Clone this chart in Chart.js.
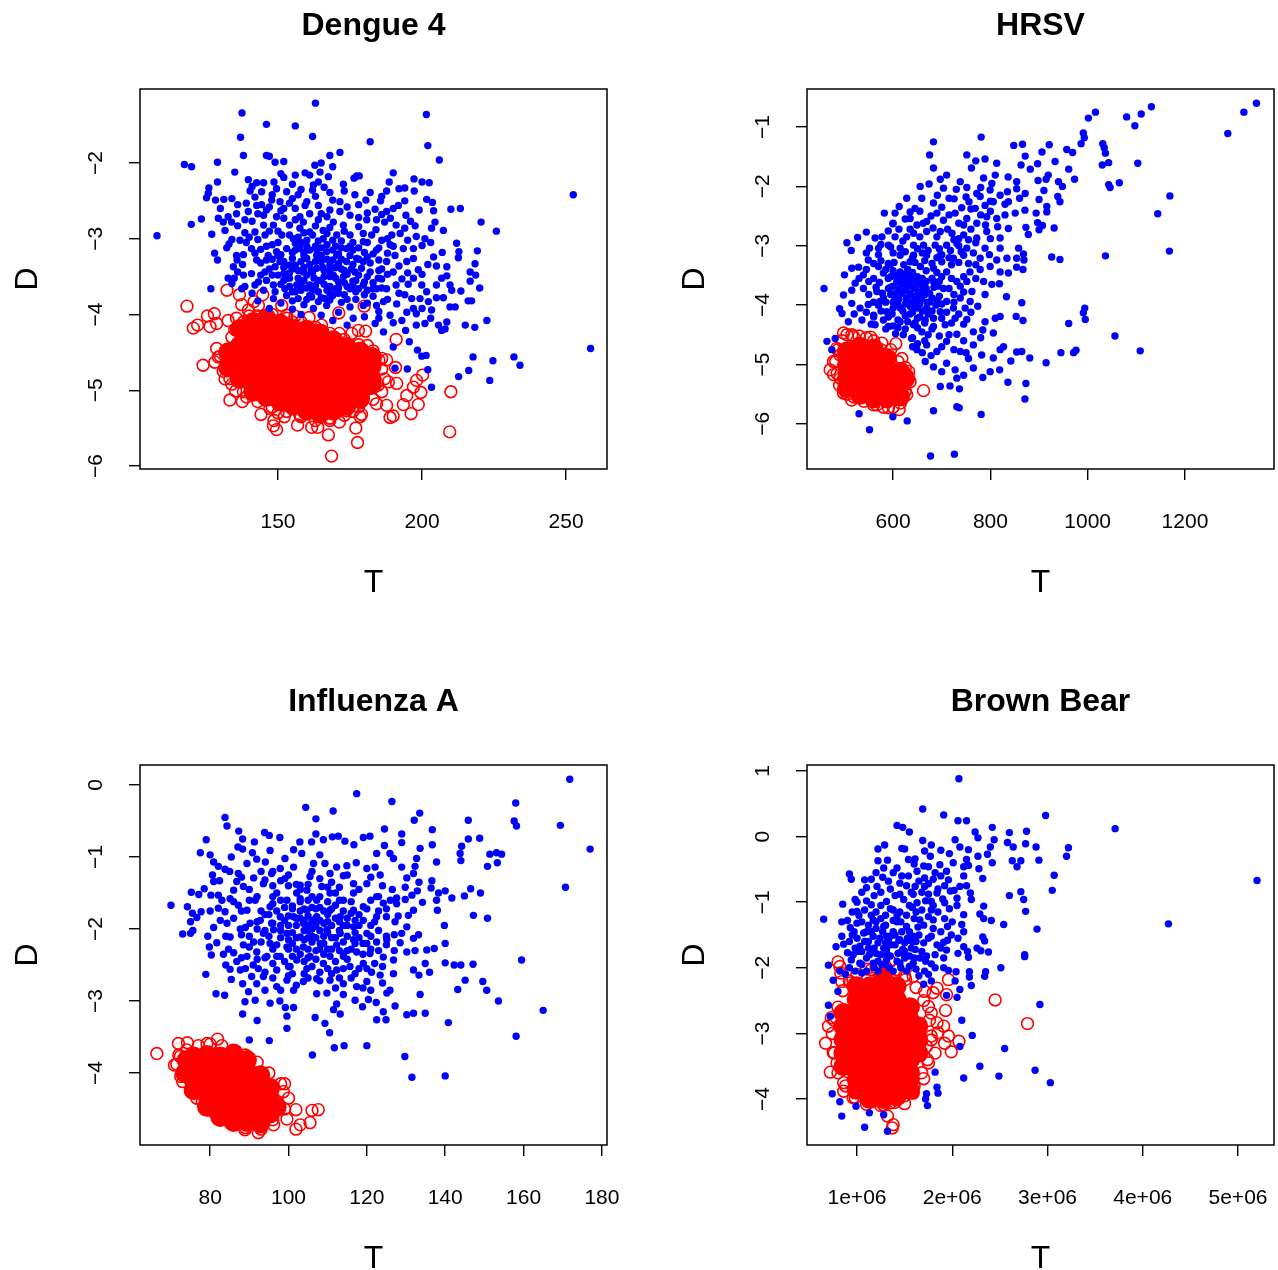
<!DOCTYPE html>
<html><head><meta charset="utf-8">
<script src="https://cdn.jsdelivr.net/npm/chart.js@4"></script>
<style>html,body{margin:0;padding:0;background:#fff;overflow:hidden;width:1278px;height:1270px}canvas{position:absolute}</style>
</head><body>
<canvas id="c0" width="640" height="610" style="left:0;top:0"></canvas>
<canvas id="c1" width="611" height="610" style="left:667px;top:0"></canvas>
<canvas id="c2" width="640" height="610" style="left:0;top:676px"></canvas>
<canvas id="c3" width="611" height="610" style="left:667px;top:676px"></canvas>
<script>
const dengueTitle="Dengue 4", hrsvTitle="HRSV", fluTitle="Influenza A", bearTitle="Brown Bear";
const dengueTicksT=[150,200,250], dengueTicksD=[-6,-5,-4,-3,-2];
const hrsvTicksT=[600,800,1000,1200], hrsvTicksD=[-6,-5,-4,-3,-2,-1];
const fluTicksT=[80,100,120,140,160,180], fluTicksD=[-4,-3,-2,-1,0];
const bearTicksT=[1,2,3,4,5], bearTicksD=[-4,-3,-2,-1,0,1]; // T in millions

const dengueBlue=[108,-2.96,163,-1.21,137.5,-1.34,146,-1.49,156,-1.51,162,-1.65,137,-1.66,201.5,-1.36,202,-1.77,206,-1.96,182,-1.72,252.5,-2.42,258.5,-4.45,138,-1.9,117.5,-2.02,120,-2.05,129,-1.99,135,-2.12,168,-1.9,171.5,-1.86,146,-1.9,147,-1.91,149,-1.99,152,-1.98,
159.4,-2.13,161,-2.16,162.8,-2.03,165,-2,169,-2.05,164.6,-2.12,167.5,-2.18,151,-2.14,156,-2.16,152,-2.19,177.3,-2.17,178.2,-2.17,176.4,-2.2,190,-2.13,188.6,-2.25,197.2,-2.21,200,-2.25,202.5,-2.26,129,-2.25,139.7,-2.22,142.6,-2.26,145,-2.26,148.6,-2.25,155,-2.28,162.3,-2.29,172.7,-2.28,
126,-2.33,125.8,-2.4,125.2,-2.46,128.3,-2.49,131.2,-2.48,140.3,-2.37,144.3,-2.38,142,-2.45,139,-2.53,144.3,-2.55,147.8,-2.49,149.5,-2.34,153,-2.38,157,-2.42,150.7,-2.51,154,-2.53,160,-2.51,162,-2.36,168,-2.39,169,-2.49,171.5,-2.51,164,-2.56,159.4,-2.56,176.7,-2.42,182,-2.39,180.5,-2.49,185.6,-2.5,187.7,-2.37,192,-2.34,194,-2.33,197.3,-2.37,201.6,-2.48,203.6,-2.52,204,-2.63,210,-2.61,213.3,-2.6,183.7,-2.61,187.7,-2.64,191.8,-2.56,190,-2.6,194.4,-2.69,139.7,-2.64,142.6,-2.56,147,-2.58,145,-2.69,149.5,-2.71,157.6,-2.71,161,-2.67,165,-2.67,168,-2.62,171.5,-2.64,175,-2.69,135.6,-2.67,132.7,-2.71,129.3,-2.73,
123.4,-2.74,119.9,-2.81,127,-2.94,131,-2.78,131.6,-2.89,133.9,-2.78,138.5,-2.75,138.5,-2.92,142,-2.91,145,-2.82,148.4,-2.82,145.5,-2.95,154,-2.82,157.6,-2.86,151.3,-2.95,155.3,-3,158.8,-2.78,161,-2.91,165.7,-2.89,169.2,-2.78,172.7,-2.82,175,-2.95,170.4,-2.95,165.7,-3,180.8,-2.75,184.2,-2.75,187,-2.78,191,-2.82,194,-2.86,197.6,-2.83,203.3,-2.86,207.4,-2.89,204.5,-2.78,220.5,-2.78,225.8,-2.9,179.6,-2.93,182.5,-2.95,186,-3.02,189.5,-2.95,192.4,-2.93,198,-2.97,201,-3,203,-3.05,197,-3.13,193.5,-3.13,188.9,-3.08,184.2,-3.15,179.6,-3.04,212,-3.06,212.8,-3.17,
134,-3.01,136.8,-3.02,132.2,-3.12,128,-3.19,129,-3.28,135.6,-3.22,135.8,-3.28,134.5,-3.37,137.7,-3.34,140.8,-3.13,142.6,-3.28,142,-3.19,146.6,-3.22,145.5,-3.44,140.8,-3.46,132.7,-3.52,134.8,-3.52,134,-3.59,143.2,-3.57,142,-3.61,126.7,-3.66,138.5,-3.63,137.4,-3.66,
149.5,-3.17,153,-3.13,150.7,-3.3,154,-3.35,157.6,-3.13,160,-3.26,163.4,-3.22,166.9,-3.17,170.4,-3.22,173.8,-3.13,173.8,-3.3,168,-3.35,163.4,-3.39,158.8,-3.44,154,-3.52,150,-3.48,148.4,-3.61,152.4,-3.66,156.5,-3.61,161,-3.61,165,-3.55,169.2,-3.48,172.7,-3.5,176.7,-3.44,177.3,-3.26,179.6,-3.3,182,-3.44,184.8,-3.52,187.7,-3.3,190.6,-3.22,190,-3.44,191,-3.61,187.7,-3.66,184.2,-3.66,179.6,-3.61,175,-3.66,171,-3.72,166.3,-3.79,161.7,-3.77,157,-3.79,153,-3.75,148.4,-3.79,194.7,-3.3,197,-3.26,198.7,-3.41,202,-3.34,205,-3.36,208.6,-3.37,197,-3.52,195.2,-3.6,199.9,-3.61,201.6,-3.7,205,-3.61,206.8,-3.52,208.6,-3.49,209.7,-3.61,210.3,-3.68,213.5,-3.69,216.7,-3.44,218.4,-3.33,219.2,-3.16,212.6,-3.25,218.6,-3.48,216.7,-3.56,220,-3.65,216,-3.82,217.2,-3.82,194,-3.74,196.4,-3.79,199.3,-3.79,205,-3.78,207.4,-3.78,202.2,-3.83,209.7,-3.9,211.5,-3.9,203.3,-3.94,198,-3.99,198,-4.14,201,-4.12,205.7,-4.14,208.6,-4.1,206.8,-4.21,208,-4.19,215,-4.14,218.3,-4.17,222.5,-4.08,
186.6,-3.83,191.2,-3.86,184.2,-3.88,194.7,-3.97,188.9,-4.01,179.6,-3.88,175,-3.9,171,-3.97,166.9,-3.88,162.3,-3.92,165,-4.01,176.1,-4.05,183.7,-4.12,190,-4.11,186.6,-4.23,194.3,-4.21,195.6,-4.36,190,-4.43,198.4,-4.47,199.9,-4.55,201.4,-4.54,194.9,-4.72,202,-4.73,190.6,-4.71,203.3,-4.96,212.7,-4.82,216.2,-4.74,217.7,-4.56,224.6,-4.61,223.5,-4.87,231.9,-4.56,234,-4.67,
155,-3.4,160,-3.48,165,-3.3,170,-3.1,158,-3.05,163,-3.1,168,-3.5,172,-3.4,176,-3.15,150,-3.05,147,-3.4,146,-3.1,152,-3.55,156,-3.7,160,-3.65,164,-3.7,168,-3.72,173,-3.58,177,-3.7,181,-3.5,183,-3.2,186,-3.4];
const dengueBlueDense=[141,-2.31,148,-2.42,155,-2.47,163,-2.44,173,-2.37,178,-2.55,186,-2.44,194,-2.5,199,-2.62,143,-2.67,151,-2.63,156,-2.6,167,-2.71,174,-2.58,181,-2.66,189,-2.73,196,-2.77,136,-2.83,141,-2.77,147,-2.9,152,-2.73,159,-2.92,163,-2.83,167,-2.93,173,-2.9,178,-2.84,184,-2.88,188,-3,195,-3.02,200,-3.09,133,-3.07,139,-3.05,143,-3.01,148,-3.08,151,-3.21,156,-3.06,159,-3.18,161,-3.34,164,-3.03,167,-3.27,169,-3.02,171,-3.33,175,-3.22,178,-3.12,181,-3.24,185,-3.28,188,-3.19,192,-3.36,195,-3.45,138,-3.21,144,-3.32,148,-3.27,152,-3.38,155,-3.26,157,-3.52,159,-3.38,162,-3.45,164,-3.55,166,-3.42,170,-3.38,171,-3.57,174,-3.47,176,-3.56,179,-3.39,183,-3.58,186,-3.53,188,-3.47,193,-3.53,200,-3.47,204,-3.24,207,-3.18,146,-3.55,149,-3.7,154,-3.63,158,-3.68,159,-3.55,163,-3.62,166,-3.6,170,-3.66,173,-3.74,176,-3.62,180,-3.74,183,-3.76,188,-3.8,192,-3.72,197,-3.92,151,-3.85,155,-3.82,159,-3.87,164,-3.83,168,-3.81,172,-3.84,177,-3.8,181,-3.85,185,-3.96,141,-3.72,145,-3.68,138,-3.48,136,-3.44,143,-3.82,147,-3.92,155,-3.93,158,-4,169,-4.08,174,-4.14,180,-4.03,185,-4.05,193,-4.08,200,-3.92,203,-4.05,165,-3.12,160,-3.1,155,-3.18,169,-3.15,152,-3.46,163,-3.3,166,-3.5,168,-3.63,156,-3.35,149,-3.37,176,-3.34,178,-3.48,161,-3.75,157,-3.42,172,-3.27,144,-3.14,140,-2.98,136,-2.55,134,-2.47,130,-2.6,152,-2.6,164,-2.25,158,-2.35,166,-2.32,146,-2.62,
150,-3.22,152,-3.3,154,-3.45,156,-3.15,158,-3.3,159,-3.22,161,-3.15,161.5,-3.42,162.5,-3.52,163.5,-3.15,165,-3.22,165.5,-3.38,167,-3.08,168,-3.43,169,-3.28,170,-3.52,171,-3.2,172,-3.12,173,-3.42,174,-3.63,175,-3.1,175.5,-3.4,177,-3.55,178,-3.27,180,-3.18,180,-3.57,182,-3.32,183,-3.66,185,-3.42,186,-3.65,151,-3.6,153,-3.52,155,-3.7,158,-3.6,160,-3.8,162,-3.68,165,-3.78,167,-3.68,169,-3.75,171,-3.65,174,-3.8,178,-3.66,181,-3.68,148,-3.48,146,-3.28,144,-3.48,150,-2.9,154,-2.95,157,-2.98,160,-3.02,162,-2.95,168,-2.85,172,-3.03,176,-3.05,181,-3.05,185,-3.12,190,-3.1,156,-2.75,164,-2.75,178,-2.72,186,-2.68];
const dengueRedRings=[118.4,-3.89,132.3,-3.68,136.6,-3.74,144.7,-3.74,137.4,-3.87,141.7,-3.83,143.2,-3.88,151.3,-3.88,171.1,-3.98,179.9,-3.89,160.8,-4.04,155.9,-4.02,165.1,-4.14,120.6,-4.18,122.1,-4.14,125.5,-4.02,127.9,-3.99,126.4,-4.16,128.7,-4.12,132.7,-4.08,135.6,-4.05,139.7,-3.94,146,-4.03,153,-4.01,171.3,-4.25,175.6,-4.25,177.9,-4.21,180.4,-4.22,191,-4.33,181,-4.41,187.7,-4.6,190.8,-4.7,200.2,-4.8,210,-5.02,209.6,-5.55,168.6,-5.87,177.6,-5.69,167.5,-5.59,177,-5.5,156.8,-5.46,161.7,-5.49,163.8,-5.49,171.3,-5.42,149.5,-5.52,148.4,-5.47,148.6,-5.4,152.2,-5.35,144.1,-5.32,133.3,-5.13,137.6,-5.15,135.3,-5.01,124,-4.67,128.1,-4.63,131.6,-4.85,133.3,-4.85,128.7,-4.45,129.3,-4.56,196.2,-5.31,198.7,-5.19,199.6,-5.03,197,-4.96,198.1,-4.87,193.5,-5.19,190,-5.34,188.9,-5.36,179,-5.32,178.5,-5.35,187.7,-5.2,184.2,-5.18,191.2,-4.91,188.3,-4.89,194.7,-5.07,186,-4.58,184.8,-4.93,147.2,-5.24,157.6,-5.33,168,-5.37,173.8,-5.27,139.1,-5.09,
134,-4.3,138,-4.1,143,-4.02,148,-4,153,-4.05,158,-4.1,163,-4.17,168,-4.25,173,-4.33,178,-4.4,183,-4.48,186,-4.72,187,-4.85,186,-5.02,183,-5.12,178,-5.22,173,-5.33,168,-5.4,163,-5.4,158,-5.35,153,-5.28,148,-5.22,143,-5.15,138,-5.02,134,-4.92,131,-4.75,130,-4.55,135,-4.2,140,-4.02,145,-4.08,155,-4.1,185,-4.6,176,-5.28,150,-5.3,165,-5.35];
const dengueRedCore=[136.8,-4.41,136.8,-4.59,136.8,-4.77,136.8,-4.85,141.4,-4.27,141.4,-4.45,141.4,-4.63,141.4,-4.81,141.4,-4.93,146,-4.19,146,-4.37,146,-4.55,146,-4.73,146,-4.91,146,-5.02,150.7,-4.23,150.7,-4.41,150.7,-4.59,150.7,-4.77,150.7,-4.95,150.7,-5.07,155.3,-4.27,155.3,-4.45,155.3,-4.63,155.3,-4.81,155.3,-4.99,155.3,-5.11,160,-4.32,160,-4.5,160,-4.68,160,-4.86,160,-5.04,160,-5.2,164.6,-4.36,164.6,-4.54,164.6,-4.72,164.6,-4.9,164.6,-5.08,164.6,-5.2,169.2,-4.45,169.2,-4.63,169.2,-4.81,169.2,-4.99,169.2,-5.15,173.8,-4.54,173.8,-4.72,173.8,-4.9,173.8,-5.08,178.5,-4.58,178.5,-4.76,178.5,-4.94,182.5,-4.68,182.5,-4.84,
132.7,-4.5,132.7,-4.7,136.8,-4.19,141.4,-4.1,146,-4.05,150.7,-4.12,155.3,-4.19,160,-4.2,164.6,-4.25,169.2,-4.34,173.8,-4.43,178.5,-4.49,182.5,-4.56,169.2,-5.27,164.6,-5.31,160,-5.27,155.3,-5.2,150.7,-5.15,146,-5.09,173.8,-5.2,178.5,-5.11,182.5,-4.93,141.4,-5.02];

const hrsvBlue=[458,-3.72,1347,-.6,1321,-.75,1288,-1.11,1131,-.66,1110,-.78,1080,-.83,1097,-.98,1016,-.75,1001.5,-.85,991,-1.1,993,-1.18,986.5,-1.28,1031,-1.28,1034,-1.35,1036.5,-1.44,1043,-1.6,1030,-1.64,1103,-1.61,1065,-1.94,1043,-1.97,1046,-2.02,1169,-2.16,1144,-2.46,1168,-3.09,1036.5,-3.17,926,-3.19,943,-3.23,
781,-1.17,683,-1.25,675,-1.47,683,-1.69,751.5,-1.47,770,-1.57,789,-1.54,761,-1.69,813,-1.61,848,-1.31,866,-1.29,871.5,-1.49,863,-1.64,882,-1.71,897,-1.62,906,-1.42,921,-1.3,933,-1.58,957,-1.38,969,-1.43,961,-1.71,973,-1.88,919,-1.81,914.5,-1.88,898,-1.9,940,-1.92,948,-2,910,-2.07,900,-2.22,938.5,-2.17,943,-2.26,916,-2.34,916,-2.43,894,-2.45,871,-2.4,897,-2.61,900,-2.73,907,-2.66,931,-2.7,873,-2.69,878,-2.81,858,-3.04,868,-3.14,869,-3.24,867,-3.4,854,-3.21,837,-3.46,854,-3.36,
833,-3.86,864.5,-3.96,853,-4.19,867,-4.26,991,-4.13,994,-4.05,995,-4.24,961,-4.31,1056,-4.52,1108,-4.77,945,-4.8,976,-4.76,971,-4.8,854,-4.79,864.5,-4.78,881,-4.89,914.5,-4.97,842,-4.94,819,-5.09,836,-5.3,873,-5.32,871,-5.58,
781,-5.84,731,-5.71,736,-5.73,683,-5.78,629,-5.95,599.5,-5.88,530,-5.83,551.5,-6.1,677,-6.54,726,-6.51,
799.5,-5.12,784.4,-5.22,765,-5.06,745,-5.18,727.5,-5.09,731,-5.23,717,-5.36,697,-5.37,736.4,-5.41,700,-5.12,683,-5.04,666,-4.95,710,-4.98,755,-4.9,782,-4.84,806,-4.89,820,-4.75,827,-4.7,765,-4.67,738,-4.78,710,-4.61,690,-4.78,669,-4.67,649,-4.75,731,-4.49,765,-4.45,784.4,-4.42,806,-4.47,789,-4.28,810,-4.22,820,-4.19,751.5,-4.24,727.5,-4.22,707,-4.33,683,-4.36,659,-4.45,638,-4.56,
710,-1.81,697,-1.88,738,-1.92,751.5,-2.02,674,-1.96,655.6,-2,703.5,-2.03,691,-2.15,786,-1.86,810,-1.81,803,-1.95,799.5,-2.06,836.5,-1.84,854,-1.92,854,-2.04,835,-2.09,871.5,-2.12,837,-2.26,772,-2.12,779,-2.17,725.5,-2.21,756,-2.26,628,-2.2,659,-2.2,683,-2.28,612.5,-2.34,604,-2.45,582,-2.45,599.5,-2.63,635,-2.43,645,-2.37,635,-2.54,649,-2.65,669,-2.59,690,-2.45,703.5,-2.57,727.5,-2.45,741,-2.36,769,-2.37,789,-2.32,806,-2.26,830,-2.48,851,-2.45,751.5,-2.54,772,-2.62,745,-2.65,792.5,-2.51,813,-2.54,837,-2.71,820,-2.87,792.5,-2.76,772,-2.87,745,-2.82,721,-2.79,697,-2.76,669,-2.76,642,-2.79,
545,-2.77,527,-2.86,505,-2.95,514,-3.08,551.5,-3.04,563,-2.87,577,-2.85,604,-2.85,628,-2.85,590.5,-2.99,614.5,-3.04,570,-3.04,642,-2.99,662.5,-2.99,686.5,-2.99,710,-2.99,731,-2.96,751.5,-3.04,789,-3.04,820,-3.04,779,-3.21,813,-3.24,834,-3.21,799.5,-3.35,820,-3.44,779,-3.4,758,-3.44,745,-3.52,786,-3.6,818.6,-3.64,803,-3.65,789,-3.82,762,-3.77,751.5,-3.6,724,-3.21,745,-3.16,697,-3.16,669,-3.16,642,-3.16,614.5,-3.16,549,-3.24,570,-3.35,529,-3.36,515,-3.38,500,-3.49,522,-3.63,539,-3.49,560,-3.55,580,-3.46,594,-3.32,614.5,-3.44,635,-3.27,656,-3.35,683,-3.38,710,-3.44,731,-3.6,703.5,-3.72,683,-3.6,659,-3.6,635,-3.66,607.6,-3.6,590.5,-3.72,566.5,-3.77,539,-3.72,498,-3.83,515,-3.97,490,-4.06,495,-4.14,532,-4.05,549,-3.99,573,-3.94,604,-3.88,628,-3.88,655.6,-3.83,680,-3.88,710,-3.94,738,-3.88,758.4,-3.94,774,-4.02,748,-4.05,724,-4.05,697,-4.11,669,-4.05,642,-4.05,614.5,-4.05,587,-4.11,560,-4.17,536,-4.25,508,-4.28,563,-4.33,590.5,-4.36,614.5,-4.28,642,-4.33,666,-4.25,683,-4.22,621,-4.5,464,-4.61,481,-4.56,474,-4.75];
const hrsvBlueDense=[600,-2.62,612,-2.72,625,-2.55,655,-2.42,662,-2.62,678,-2.5,700,-2.35,715,-2.48,735,-2.62,760,-2.38,780,-2.48,800,-2.42,815,-2.68,790,-2.65,760,-2.72,735,-2.88,712,-2.72,682,-2.7,655,-2.85,620,-2.92,595,-3.02,570,-3.15,600,-3.12,625,-3.1,650,-3.05,672,-3.08,695,-3.05,718,-3.08,740,-3.1,765,-3.12,798,-3.15,545,-3.4,560,-3.3,585,-3.4,602,-3.28,622,-3.32,645,-3.28,665,-3.25,680,-3.3,700,-3.27,720,-3.32,735,-3.28,755,-3.3,770,-3.32,530,-3.55,550,-3.6,572,-3.62,595,-3.52,605,-3.5,625,-3.48,640,-3.45,650,-3.52,668,-3.42,690,-3.45,700,-3.52,720,-3.55,738,-3.68,770,-3.55,515,-3.75,550,-3.82,578,-3.8,595,-3.82,612,-3.72,622,-3.65,645,-3.72,655,-3.65,668,-3.72,692,-3.68,715,-3.72,725,-3.82,745,-3.78,560,-3.95,585,-3.95,600,-3.95,618,-3.8,635,-3.8,648,-3.85,665,-3.82,675,-3.95,695,-3.85,700,-3.98,725,-3.95,520,-4.15,545,-4.12,575,-4.1,598,-4.15,610,-4,625,-3.98,640,-3.95,655,-3.98,672,-4.15,688,-4,710,-4.12,735,-4.15,760,-4.12,555,-4.32,580,-4.25,600,-4.35,625,-4.18,635,-4.15,650,-4.22,660,-4.1,700,-4.22,720,-4.3,745,-4.32,650,-4.38,625,-4.4,605,-4.48,640,-4.55,672,-4.5,695,-4.52,715,-4.5,745,-4.6,780,-4.55,640,-4.7,660,-4.8,678,-4.85,700,-4.7,725,-4.75,750,-4.8,630,-3.4,640,-3.55,612,-3.58,645,-3.95,660,-3.55,680,-3.55,600,-3.68,630,-3.6,575,-3.25,545,-3.12,690,-2.85,725,-2.9,770,-2.95,800,-2.88,590,-2.75,635,-2.72,575,-2.98,750,-2.18,780,-2.02,830,-2.3,860,-2.2,820,-2.15,800,-2.25,730,-2.05,715,-2.2,
590,-3.55,595,-3.7,600,-3.42,605,-3.8,610,-3.5,612,-3.9,615,-3.62,620,-4.1,620,-3.55,625,-3.75,628,-3.9,630,-4.28,632,-3.52,635,-4.02,637,-3.68,640,-4.12,642,-3.85,645,-4.3,648,-3.6,650,-4.05,652,-3.78,655,-4.2,658,-3.9,662,-3.72,665,-4.3,668,-3.6,670,-3.95,675,-3.8,680,-4.1,684,-3.7,690,-3.92,695,-3.6,610,-4.25,600,-4.05,590,-4.2,580,-3.88,570,-4,565,-3.7,560,-4.2,585,-4.4,610,-4.38,590,-3.3,640,-3.2,660,-3.12,700,-3.15,715,-3.2,735,-3,690,-3.2,755,-2.9,650,-4.65,665,-4.6,680,-4.4];
const hrsvRedRings=[498,-4.47,518.6,-4.53,554,-4.54,577,-4.64,605.6,-4.65,618,-4.9,632,-5.12,635,-5.29,662.5,-5.44,477.5,-5.17,470.6,-5.09,515,-5.6,498,-5.48,612.5,-5.76,590.5,-5.73,628,-5.51,484,-4.73,477.5,-4.95,566.5,-5.68,491,-4.84,491,-5.23,
495,-4.6,505,-4.5,515,-4.5,530,-4.52,545,-4.55,560,-4.6,575,-4.75,595,-4.75,610,-4.95,625,-5.05,630,-5.2,625,-5.45,615,-5.65,600,-5.72,580,-5.72,560,-5.68,540,-5.62,520,-5.55,505,-5.5,490,-5.35,485,-5.15,482,-4.95,487,-4.75];
const hrsvRedCore=[505,-4.78,505,-5.01,505,-5.23,505,-5.4,532,-4.7,532,-4.92,532,-5.15,532,-5.37,532,-5.51,560,-4.73,560,-4.95,560,-5.17,560,-5.4,560,-5.57,587,-4.89,587,-5.12,587,-5.34,587,-5.57,614.5,-5.12,614.5,-5.34,614.5,-5.54,625,-5.23];

const fluBlue=[171.8,.08,177,-.89,169.4,-.56,170.7,-1.42,158,-.25,157.6,-.5,158.2,-.57,145.9,-.49,148.8,-.74,145.9,-.75,144.2,-.85,143.8,-.95,144,-1.05,151.4,-.96,153.1,-.94,154.4,-.96,153.3,-1.08,150.8,-1.13,117.4,-.12,126.4,-.23,104.4,-.31,111.4,-.36,107,-.47,83.8,-.45,84.3,-.57,87.3,-.64,79,-.76,88.3,-.75,91.3,-.79,93.9,-.66,95.1,-.7,97.8,-.73,102.9,-.79,105.9,-.79,107,-.68,108.9,-.76,111.2,-.72,112.7,-.71,114.4,-.78,116.7,-.83,119.1,-.73,120.8,-.71,124.5,-.61,128.9,-.68,128.9,-.8,133.5,-.39,132.1,-.49,136.7,-.62,136.7,-.83,133.6,-.88,124.5,-.84,
77.5,-.94,80,-.97,85.4,-1,87.1,-.86,88.3,-.89,90.8,-.94,95.3,-.91,99.1,-1.02,101.3,-.9,103.4,-.95,108,-.97,122.5,-.95,125.9,-.95,126.8,-1.02,132.7,-1.02,137.8,-1.07,
80.9,-1.07,82.1,-1.13,83.8,-1.17,80.6,-1.25,80.9,-1.34,82.4,-1.33,89.4,-1.09,91.9,-1.03,94.1,-1.07,87.2,-1.23,86.8,-1.34,91.1,-1.29,93.6,-1.37,95.7,-1.23,97.9,-1.16,101.3,-1.14,99.1,-1.3,103,-1.39,105.5,-1.27,106.4,-1.09,109.3,-1.09,110.6,-1.23,112.3,-1.14,114.9,-1.12,117.3,-1.08,120,-1.16,122.1,-1.14,123.4,-1.25,120,-1.37,116.6,-1.37,114,-1.26,108.5,-1.41,128.9,-1.14,130.2,-1.29,132.3,-1.13,131.9,-1.23,133.3,-1.35,136.6,-1.33,129.8,-1.42,126.5,-1.45,132.9,-1.47,136.4,-1.43,140,-1.47,146.5,-1.44,149,-1.5,144.9,-1.54,141.7,-1.57,138.3,-1.5,137.8,-1.6,138,-1.74,134.2,-1.63,131.5,-1.53,129.8,-1.59,127.6,-1.57,127.6,-1.65,147.2,-1.81,150.8,-1.85,
70,-1.67,75.2,-1.49,77.1,-1.52,78.5,-1.44,80.2,-1.53,82.1,-1.53,74.2,-1.69,75.5,-1.78,77.7,-1.76,76.6,-1.84,75,-1.9,75.6,-2.02,75,-2.06,73,-2.07,80,-1.75,82.1,-1.71,83.8,-1.76,85.1,-1.58,87.2,-1.67,89.4,-1.74,91.5,-1.6,86,-1.46,88.5,-1.41,82.6,-1.88,84.3,-1.92,79.4,-2.1,80.9,-1.98,79.8,-2.25,80.3,-2.36,81.7,-2.19,84.7,-2.28,83.4,-2.35,84,-2.5,85.1,-2.56,78.9,-2.63,85.4,-2.7,81.5,-2.9,83.7,-2.92,86.8,-2.45,87.7,-2.57,89.4,-2.38,91.9,-2.32,85.1,-2.11,87.7,-2,90.2,-1.92,92.8,-1.88,88.5,-2.22,91.1,-2.18,93.6,-2.06,95.7,-1.92,
97,-1.5,99.6,-1.6,102.1,-1.5,104.7,-1.46,107.2,-1.6,110.6,-1.5,114,-1.6,116.6,-1.5,119.1,-1.69,95.3,-1.69,97.9,-1.83,101.3,-1.83,104.7,-1.74,103.8,-1.92,107.2,-1.83,110.6,-1.74,113.2,-1.83,116.6,-1.74,119.1,-1.88,96.2,-2.01,99.6,-2.06,103,-2.11,106.4,-1.97,109.8,-2.01,113.2,-2.06,116.6,-1.97,120,-2.06,122.5,-1.83,125,-1.83,124.2,-1.64,122.5,-1.55,127.2,-1.9,130.2,-1.97,128.9,-2.06,131.9,-2.13,133.2,-2.08,130.6,-1.81,131.9,-1.74,122.5,-2.18,125.1,-2.15,126.8,-2.43,124.2,-2.39,128.5,-2.19,130.2,-2.32,132.3,-2.3,134.9,-2.48,135.3,-2.29,137.2,-2.27,139.8,-1.95,140,-2.2,140,-2.47,142.3,-2.5,144,-2.5,147.1,-2.49,159.5,-2.43,136,-2.6,133.3,-2.64,131.9,-2.57,126.8,-2.62,123.4,-2.64,121.2,-2.6,145.1,-2.71,143.2,-2.84,149.6,-2.73,150.6,-2.85,153.6,-3,165,-3.13,158.1,-3.49,140.8,-3.3,133.6,-2.91,125.9,-2.85,125.1,-2.89,127.2,-3.07,134.9,-3.17,131.9,-3.17,130.2,-3.19,129.7,-3.77,131.5,-4.06,140,-4.04,124.2,-3.15,122.5,-3.26,124.9,-3.26,122.4,-3.02,120.4,-2.98,117,-2.99,118.9,-3.08,112.3,-3.04,111.5,-3.12,113.2,-3.18,114,-2.91,109.8,-2.89,107.2,-2.9,
106.8,-3.23,109.3,-3.31,110.5,-3.44,114.2,-3.62,111.7,-3.65,120,-3.62,106.1,-3.75,99.6,-3.38,101.3,-3.09,99.2,-3.09,99.6,-3.21,97.8,-3,95.3,-3.03,92,-3.27,88.3,-3.18,90,-3.54,95.1,-3.55,88.9,-3.01,91.5,-2.99,94,-2.85,89.8,-2.87,91.9,-2.76,88.3,-2.76,90.6,-2.66,93.6,-2.66,92.3,-2.55,97,-2.8,101.3,-2.85,99.6,-2.71,103.8,-2.73,107.2,-2.69,110.6,-2.71,114,-2.76,117.4,-2.8,120,-2.73,97,-2.57,100.4,-2.52,104.7,-2.55,108.9,-2.48,112.3,-2.57,115.7,-2.52,119.1,-2.48,94.5,-2.38,97.9,-2.38,102.1,-2.43,105.5,-2.38,110.6,-2.38,114,-2.34,117.4,-2.32,120.8,-2.34,95.3,-2.2,99.6,-2.25,103.8,-2.25,108.1,-2.2,112.3,-2.22,116.6,-2.15];
const fluBlueDense=[85,-1.2,88,-1.28,90,-1.45,93,-1.2,96,-1.4,98,-1.33,100,-1.25,102,-1.38,105,-1.6,106,-1.2,108,-1.3,111,-1.35,113,-1.42,115,-1.25,118,-1.45,121,-1.28,124,-1.4,126,-1.6,83,-1.6,86,-1.62,90,-1.6,93,-1.75,96,-1.55,99,-1.7,101,-1.68,103,-1.62,105,-1.82,106,-1.55,108,-1.7,110,-1.62,112,-1.67,114,-1.75,116,-1.62,118,-1.8,121,-1.6,123,-1.75,128,-1.82,86,-1.85,89,-1.98,92,-2,94,-1.8,96,-1.92,98,-2.12,100,-1.95,101,-2.05,103,-1.85,104,-2.02,105,-1.95,106,-2.1,107,-1.95,108,-1.88,109,-2.1,110,-1.9,111,-1.95,112,-2.12,114,-1.95,115,-2.1,117,-2.05,118,-1.95,121,-1.95,123,-2.02,125,-2.1,127,-2.08,84,-2.1,88,-2.08,90,-2.1,93,-2.18,95,-2.1,97,-2.22,100,-2.15,102,-2.28,104,-2.15,105,-2.28,106,-2.18,107,-2.3,109,-2.2,110,-2.28,111,-2.12,113,-2.3,114,-2.18,115,-2.3,117,-2.2,119,-2.2,121,-2.28,123,-2.3,127,-2.3,86,-2.33,89,-2.55,92,-2.42,96,-2.48,99,-2.45,101,-2.62,104,-2.45,106,-2.52,107,-2.42,110,-2.55,112,-2.45,113,-2.68,115,-2.42,117,-2.62,118,-2.55,120,-2.55,122,-2.48,124,-2.52,96,-2.68,98,-2.85,100,-2.65,102,-2.78,105,-2.68,108,-2.72,112,-2.82,116,-2.68,119,-2.82,121,-2.85,124,-2.75,102,-1.95,103,-1.75,105,-2.12,107,-1.72,108,-2.02,100,-1.82,98,-1.95,110,-1.8,113,-1.9,106,-1.88,104,-1.88,101,-2.2,109,-1.75,96,-2.28,94,-2.4,90,-2.25,115,-1.85,117,-1.88,120,-2.2,122,-1.9,92,-1.55,88,-1.75,94,-1.32,
96,-1.65,97,-1.75,98,-2.02,99,-1.88,100,-2.28,101,-1.72,101,-2.38,102,-1.85,102,-2.12,103,-1.58,103,-2.35,104,-1.72,105,-2.02,105,-2.4,106,-1.7,106,-2,107,-2.12,107,-1.85,108,-2.28,108,-1.55,109,-1.92,109,-2.35,110,-2.05,111,-1.72,111,-2.28,112,-1.85,113,-1.6,113,-2.02,114,-2.38,115,-1.95,116,-1.78,116,-2.28,118,-2.12,119,-2.35,120,-1.72,121,-2.1,92,-1.9,94,-2.02,95,-1.8,97,-2.38,98,-1.6,103,-1.45,105,-1.38,110,-1.42,112,-1.5,100,-1.4,96,-1.2,100,-2.52,104,-2.62,108,-2.6,111,-2.62,114,-2.55,88,-2.4,91,-2.5,94,-2.6,123,-1.55,125,-1.72,125,-2.22];
const fluRedRings=[66.4,-3.73,71.9,-3.59,74.2,-3.58,81.9,-3.53,70.9,-3.89,73,-4.12,99,-4.15,98.7,-4.26,101.9,-4.51,106,-4.52,107.6,-4.51,105.5,-4.69,103,-4.72,101.9,-4.78,99.6,-4.64,96.2,-4.72,92.3,-4.83,88.9,-4.79,86,-4.71,80.9,-4.51,76.6,-4.35,72.4,-3.77,79.2,-3.59,
72,-3.75,74,-3.68,77,-3.62,80,-3.6,83,-3.62,86,-3.7,89,-3.75,92,-3.85,95,-4,98,-4.15,100,-4.35,99,-4.5,96,-4.65,93,-4.78,89,-4.76,85,-4.68,81,-4.55,78,-4.4,75,-4.25,72.5,-4.05,71.5,-3.88];
const fluRedCore=[75.8,-3.77,75.8,-3.96,75.8,-4.1,79.2,-3.75,79.2,-3.94,79.2,-4.12,79.2,-4.31,82.6,-3.77,82.6,-3.96,82.6,-4.14,82.6,-4.33,82.6,-4.47,86,-3.89,86,-4.07,86,-4.26,86,-4.44,86,-4.58,89.4,-3.98,89.4,-4.17,89.4,-4.35,89.4,-4.54,89.4,-4.68,92.8,-4.21,92.8,-4.4,92.8,-4.56,92.8,-4.7,95.3,-4.38,95.3,-4.56,
86,-3.73,89.4,-3.82,92.8,-4.03,75.8,-4.24,79.2,-4.47,82.6,-4.61,86,-4.68,74,-3.82,73.6,-4,95.3,-4.21,97,-4.47];

const bearBlue=[5.2,-.67,4.27,-1.33,3.71,.12,2.98,.32,2.07,.88,1.69,.42,1.91,.33,2.06,.24,2.15,.24,1.42,.17,1.48,.14,1.55,.07,2.42,.14,2.24,.07,2.27,-.02,2.6,.06,2.78,.08,2.44,-.05,2.58,-.09,2.64,-.16,2.77,-.11,2.88,-.16,3.22,-.17,3.2,-.3,2.91,-.36,2.72,-.37,2.63,-.37,2.68,-.46,3.07,-.59,3.05,-.82,2.72,-.84,2.6,-.9,2.75,-.96,2.77,-1.14,2.89,-1.41,2.54,-1.34,2.41,-1.28,2.33,-1.25,2.29,-1.18,2.33,-1.06,2.32,-.64,2.28,-.49,2.42,-.4,2.27,-.3,2.37,-.27,2.4,-.16,2.17,-.2,2.08,-.16,2.03,-.05,1.97,-.26,1.88,-.21,1.78,-.13,1.69,-.06,1.71,-.22,1.77,-.3,1.61,-.34,1.54,-.35,1.5,-.19,1.47,-.18,1.29,-.13,1.22,-.19,1.22,-.37,1.32,-.36,.92,-.57,.94,-.65,1.08,-.66,1.2,-.55,1.28,-.48,1.42,-.48,1.54,-.6,1.63,-.53,1.75,-.46,1.87,-.43,2.01,-.4,2.15,-.35,2.17,-.44,2.12,-.46,1.94,-.53,1.82,-.55,1.71,-.63,1.61,-.76,1.45,-.71,1.33,-.68,1.21,-.76,1.05,-.85,.98,-.96,.85,-1.03,.65,-1.26,.84,-1.3,1,-1.14,1.15,-1.04,1.31,-.99,1.49,-.96,1.63,-1.01,1.78,-.99,1.92,-1.01,2.05,-.94,2.19,-.86,2.2,-.96,2.12,-1.19,2.08,-.76,1.98,-.83,1.84,-.86,1.71,-.76,1.59,-.88,1.96,-.66,2.12,-.6,
.84,-1.52,.93,-1.39,.78,-1.68,.86,-1.64,.7,-1.96,.9,-1.77,1,-1.32,1.07,-1.47,1.17,-1.27,1.28,-1.37,1.42,-1.21,1.52,-1.37,1.66,-1.27,1.8,-1.27,1.95,-1.37,2.1,-1.34,2.12,-1.45,1.99,-1.5,2.06,-1.55,1.91,-1.61,2.34,-1.59,2.32,-1.53,2.26,-1.7,2.38,-1.76,2.3,-1.74,2.12,-1.68,2.16,-1.75,2.17,-1.84,2.06,-1.78,1.94,-1.73,1.91,-1.85,1.78,-1.94,1.84,-1.65,1.7,-1.62,1.78,-1.52,1.59,-1.52,1.45,-1.57,1.31,-1.52,1.17,-1.52,1.03,-1.67,1.15,-1.72,1.31,-1.72,1.45,-1.77,1.61,-1.72,1.73,-1.82,1.59,-1.93,1.45,-1.93,1.31,-1.88,1.17,-1.93,1.03,-1.93,.94,-1.88,1.71,-2.05,1.91,-2,1.96,-2.04,2.04,-2.06,2.18,-2.06,2.18,-2.14,2.35,-2.06,2.34,-2.13,2.51,-2,2.76,-1.8,2.76,-1.83,2.03,-2.2,2.2,-2.27,2.08,-2.33,2.05,-2.45,1.94,-2.42,1.78,-2.2,2.92,-2.56,2.1,-2.8,2.21,-3.03,2.55,-3.23,2.08,-3.2,2.29,-3.5,2.12,-3.68,2.49,-3.65,2.87,-3.56,3.03,-3.75,1.82,-3.59,1.84,-3.82,1.85,-3.91,1.73,-3.92,1.72,-4,1.74,-4.1,.99,-4.11,.74,-3.92,.82,-4.04,.84,-4.26,1.08,-4.43,1.13,-4.21,1.32,-4.49,1.28,-4.24,.7,-2.57,.75,-2.19,.8,-2.36,.72,-2.74];
const bearBlueDense=[.95,-1.5,1,-1.55,1.05,-1.75,1.1,-1.45,1.12,-1.6,1.2,-1.4,1.22,-1.62,1.25,-1.8,1.27,-1.45,1.3,-1.35,1.33,-1.6,1.35,-1.82,1.38,-1.45,1.4,-1.65,1.42,-1.9,1.47,-1.45,1.5,-1.62,1.5,-1.85,1.55,-1.45,1.57,-1.7,1.6,-1.25,1.65,-1.5,1.68,-1.75,1.7,-1.35,1.72,-1.9,1.75,-1.55,1.8,-1.4,1.82,-1.8,1.85,-1.15,1.88,-1.45,1.15,-1.2,1.2,-1.15,1.25,-1.25,1.35,-1.1,1.38,-1.28,1.45,-1.15,1.52,-1.2,1.58,-1.08,1.68,-1.12,1.72,-.98,1.8,-1.05,1.85,-.8,1.9,-.95,1.92,-.75,1.97,-1.1,2.02,-.82,2.05,-1.05,2.15,-.75,1.1,-.98,1.18,-.9,1.25,-.85,1.27,-.62,1.35,-.8,1.38,-.55,1.4,-.9,1.47,-.6,1.52,-.75,1.57,-.85,1.65,-.68,1.68,-.85,1.75,-.72,1.8,-.65,1.88,-.6,1.7,-.45,1.6,-.42,1.15,-.65,1.1,-.78,1,-1,.95,-1.15,.9,-1.28,.98,-2.05,1.05,-2.08,1.22,-2.05,1.38,-2.05,1.52,-2.05,1.62,-2.02,1.75,-2.1,1.82,-2,1.88,-1.7,1.95,-1.58,2,-1.3,1.65,-2.12,1.7,-2.25,.88,-2.1,.92,-2,.82,-2.05,1.1,-1.85,1.2,-1.78,1.3,-1.95,1.48,-1.72,1.55,-1.98,1.6,-1.85,1.12,-1.35,1.05,-1.3,.97,-1.45,1.35,-1.52,1.28,-1.7,1.42,-1.3,1.55,-1.58,1.78,-1.12,1.92,-1.25,1.75,-.88,1.45,-.88,
1.02,-1.75,1.05,-1.95,1.08,-1.6,1.1,-2.05,1.13,-1.8,1.15,-1.45,1.18,-1.7,1.18,-2,1.22,-1.9,1.24,-1.55,1.26,-1.95,1.3,-1.62,1.32,-1.8,1.34,-2,1.36,-1.65,1.4,-1.5,1.43,-1.78,1.44,-1.58,1.46,-2,1.5,-1.75,1.53,-1.55,1.55,-1.82,1.58,-1.6,1.62,-1.6,1.64,-1.38,1.66,-1.85,1.2,-1.3,1.3,-1.2,1.38,-1.12,1.46,-1.3,1.55,-1.05,1.62,-1.15,1.75,-1.22,1.02,-1.2,1.08,-1.12,1.12,-1.7,.98,-1.7,.96,-1.8,.92,-1.6,1.25,-1.05];
const bearRedRings=[2.45,-2.49,2.79,-2.85,2.07,-3.12,1.99,-3.28,.67,-3.15,.72,-3.59,.8,-1.91,.82,-1.98,.83,-2.08,.84,-2.21,.93,-2.23,1.15,-2.03,1.35,-1.9,1.59,-2.13,1.51,-2.18,1.96,-2.18,1.84,-2.31,1.71,-2.36,1.94,-2.41,1.93,-2.65,1.91,-2.89,1.96,-3.04,1.92,-3.15,1.82,-3.3,1.75,-3.45,1.7,-3.69,1.59,-3.91,1.5,-4.07,1.38,-4.39,1.37,-4.44,1.32,-4.26,1.28,-4.09,1.35,-4.06,.96,-3.98,.86,-3.88,.86,-3.75,.7,-2.89,.73,-2.76,.79,-3.45,.75,-3.29,1.78,-2.69,1.84,-2.84,1.78,-3.04,1.85,-2.99,1.73,-3.2,1.8,-2.38,1.75,-2.59,
.8,-2.6,.85,-2.35,.92,-2.2,1,-2.1,1.1,-2.02,1.2,-2,1.3,-1.98,1.42,-2.03,1.5,-2.12,1.62,-2.3,1.7,-2.5,1.76,-2.8,1.78,-3.1,1.74,-3.4,1.68,-3.6,1.6,-3.8,1.5,-3.95,1.4,-4.05,1.25,-4.1,1.1,-4.08,.98,-3.98,.88,-3.8,.8,-3.6,.76,-3.3,.74,-3,.76,-2.8];
const bearRedCore=[.857,-2.69,.857,-2.89,.857,-3.09,.857,-3.3,.857,-3.5,.996,-2.48,.996,-2.69,.996,-2.89,.996,-3.09,.996,-3.3,.996,-3.5,.996,-3.7,1.136,-2.28,1.136,-2.48,1.136,-2.69,1.136,-2.89,1.136,-3.09,1.136,-3.3,1.136,-3.5,1.136,-3.7,1.136,-3.91,1.276,-2.23,1.276,-2.48,1.276,-2.69,1.276,-2.89,1.276,-3.09,1.276,-3.3,1.276,-3.5,1.276,-3.7,1.276,-3.91,1.416,-2.28,1.416,-2.48,1.416,-2.69,1.416,-2.89,1.416,-3.09,1.416,-3.3,1.416,-3.5,1.416,-3.7,1.416,-3.86,1.556,-2.6,1.556,-2.8,1.556,-3,1.556,-3.2,1.556,-3.4,1.556,-3.6,1.556,-3.7,1.644,-2.89,1.644,-3.1,1.644,-3.3,
.996,-2.28,.996,-3.86,1.556,-3.86,1.416,-3.96,1.136,-4,1.276,-4,1.276,-2.13];

const toPoints=f=>{const p=[];for(let i=0;i<f.length;i+=2)p.push({x:f[i],y:f[i+1]});return p;};
const minus=v=>String(v).replace('-','\u2212');
const FONT='"Liberation Sans",Arial,sans-serif';
const boxPlugin={id:'box',afterDraw(c){const a=c.chartArea,g=c.ctx;g.save();g.strokeStyle='#000';g.lineWidth=1.5;g.strokeRect(a.left,a.top,a.right-a.left,a.bottom-a.top);g.restore();}};

function panel(id,title,blue,dense,rings,core,tT,tD,xr,yr,fmt){
 const cv=document.getElementById(id);
 new Chart(cv,{type:'scatter',plugins:[boxPlugin],
  data:{datasets:[
   {data:toPoints(blue.concat(dense)),pointRadius:3.7,pointBorderWidth:0,pointBackgroundColor:'#0000ff'},
   {data:toPoints(core),pointRadius:10,pointBorderWidth:0,pointBackgroundColor:'#ff0000'},
   {data:toPoints(rings),pointRadius:5.9,pointBorderWidth:1.6,pointBorderColor:'#ff0000',pointBackgroundColor:'rgba(0,0,0,0)'}
  ]},
  options:{responsive:false,animation:false,events:[],
   layout:{autoPadding:false,padding:{left:0,right:cv.width-607,top:0,bottom:0}},
   plugins:{legend:{display:false},tooltip:{enabled:false},
    title:{display:true,text:title,fullSize:false,color:'#000',font:{family:FONT,size:32,weight:'bold',lineHeight:1.2},padding:{top:7,bottom:43.6}}},
   scales:{
    x:{type:'linear',min:xr[0],max:xr[1],
     afterBuildTicks(s){s.ticks=tT.map(v=>({value:v}));},
     afterFit(s){s.height=141;s.paddingLeft=0;s.paddingRight=0;},
     border:{display:false},
     grid:{drawOnChartArea:false,drawTicks:true,tickLength:11,color:'#000',lineWidth:1.4},
     ticks:{autoSkip:false,maxRotation:0,minRotation:0,padding:30,color:'#000',font:{family:FONT,size:21},callback:v=>fmt?fmt(v):minus(v)},
     title:{display:true,text:'T',color:'#000',font:{family:FONT,size:32},padding:{top:0,bottom:8}}},
    y:{type:'linear',min:yr[0],max:yr[1],
     afterBuildTicks(s){s.ticks=tD.map(v=>({value:v}));},
     afterFit(s){s.width=140;s.paddingTop=0;s.paddingBottom=0;},
     border:{display:false},
     grid:{drawOnChartArea:false,drawTicks:true,tickLength:11,color:'#000',lineWidth:1.4},
     ticks:{autoSkip:false,minRotation:90,maxRotation:90,crossAlign:'center',padding:21,color:'#000',font:{family:FONT,size:21},callback:v=>minus(v)},
     title:{display:true,text:'D',color:'#000',font:{family:FONT,size:32},padding:{top:9,bottom:0}}}
   }}});
}
panel('c0',dengueTitle,dengueBlue,dengueBlueDense,dengueRedRings,dengueRedCore,dengueTicksT,dengueTicksD,[102.1,264.2],[-6.04,-1.023]);
panel('c1',hrsvTitle,hrsvBlue,hrsvBlueDense,hrsvRedRings,hrsvRedCore,hrsvTicksT,hrsvTicksD,[423,1383],[-6.76,-.36]);
panel('c2',fluTitle,fluBlue,fluBlueDense,fluRedRings,fluRedCore,fluTicksT,fluTicksD,[62.1,181.3],[-5,.278]);
panel('c3',bearTitle,bearBlue,bearBlueDense,bearRedRings,bearRedCore,bearTicksT,bearTicksD,[.475,5.378],[-4.7,1.09],v=>v+'e+06');
</script>
</body></html>
